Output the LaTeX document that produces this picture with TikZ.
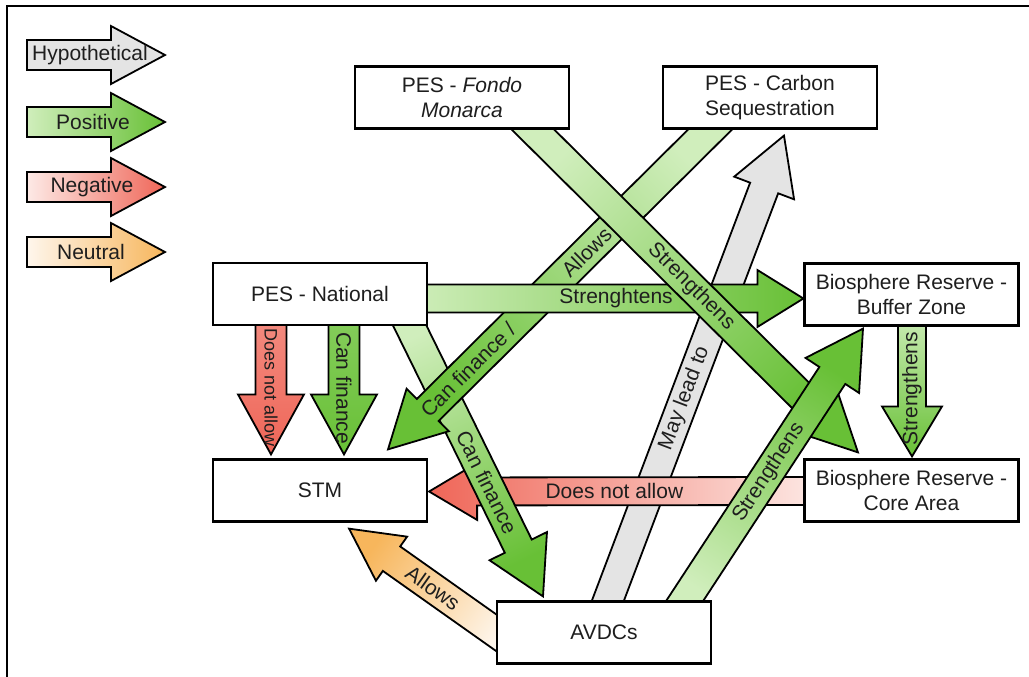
\documentclass[tikz,border=0pt]{standalone}
\usepackage{fontspec}
\setmainfont{Liberation Sans}
\usetikzlibrary{calc}
\definecolor{gpale}{RGB}{208,238,188}
\definecolor{gsat}{RGB}{104,192,54}
\definecolor{rpale}{RGB}{253,234,230}
\definecolor{rsat}{RGB}{239,102,88}
\definecolor{opale}{RGB}{254,246,236}
\definecolor{osat}{RGB}{247,182,92}
\definecolor{hgray}{RGB}{228,228,228}
\definecolor{txt}{RGB}{30,30,30}
\newcommand\fs{\fontsize{10.5}{12.5}\selectfont}
\pgfdeclarelayer{bg}
\pgfsetlayers{bg,main}
% #1 fill style, #2 start, #3 tip, #4 shaft half, #5 head half, #6 head length, #7 tail extension, #8 labels (px, local frame)
\newcommand\blockarrow[8]{%
  \path let \p1=($(#3)-(#2)$), \n1={atan2(\y1,\x1)}, \n2={veclen(\x1,\y1)} in
    \pgfextra{\xdef\baang{\n1}\xdef\balen{\n2}\pgfmathsetmacro\bash{\n1+90}\xdef\bashang{\bash}};
  \begin{scope}[shift={(#2)}, rotate=\baang, x=0.5pt, y=0.5pt]
    \path[arrowline, #1, shading angle=\bashang] (-#7,-#4) -- ({\balen-#6},-#4) -- ({\balen-#6},-#5) -- ({\balen},0)
       -- ({\balen-#6},#5) -- ({\balen-#6},#4) -- (-#7,#4) -- cycle;
    #8
  \end{scope}}
\begin{document}
\begin{tikzpicture}[x=0.5pt,y=-0.5pt,
  box/.style={draw=black, line width=1.1pt, fill=white, minimum width=107pt, minimum height=31pt,
    inner sep=2pt, align=center, font=\fs, text=txt},
  arrowline/.style={draw=black, line width=0.9pt, line join=miter},
  lbl/.style={transform shape, font=\fs, text=txt, inner sep=0pt},
  posarr/.style={left color=gpale, right color=gsat},
  negarr/.style={left color=rpale, right color=rsat},
  neuarr/.style={left color=opale, right color=osat},
  hyparr/.style={left color=hgray, right color=hgray}]
\useasboundingbox (0,0) rectangle (1029,676);
\draw[line width=1.2pt] (7,690) -- (7,6) -- (1040,6);

\node[box] (fondo) at (462,97.5) {PES - \textit{Fondo}\\\textit{Monarca}};
\node[box] (carbon) at (770,97.5) {PES - Carbon\\Sequestration};
\node[box] (nat) at (320,294) {PES - National};
\node[box] (stm) at (320,490.5) {STM};
\node[box] (buf) at (911.5,294.5) {Biosphere Reserve -\\Buffer Zone};
\node[box] (core) at (911.5,490.5) {Biosphere Reserve -\\Core Area};
\node[box] (avdc) at (604,632.5) {AVDCs};

\coordinate (a1s) at ($(nat.south)+(-49,0)$);   \coordinate (a1t) at ($(stm.north)+(-49,-4)$);
\coordinate (a2s) at ($(nat.south)+(24,0)$);    \coordinate (a2t) at ($(stm.north)+(24,-4)$);
\coordinate (a3s) at ($(buf.south)+(0.5,0)$);   \coordinate (a3t) at ($(core.north)+(0.5,-2)$);
\coordinate (a4s) at ($(core.west)+(0,0.5)$);   \coordinate (a4t) at ($(stm.east)+(1,1)$);
\coordinate (a5s) at ($(nat.east)+(0,4.5)$);    \coordinate (a5t) at ($(buf.west)+(0,4)$);
\coordinate (a6s) at (avdc.west);               \coordinate (a6t) at ($(stm.south)+(29,6)$);
\coordinate (a7s) at ($(avdc.north)+(4,0)$);    \coordinate (a7t) at ($(carbon.south)+(14,6)$);
\coordinate (a8s) at ($(avdc.north)+(81,0)$);   \coordinate (a8t) at ($(buf.south)+(-48.5,2)$);
\coordinate (a9s) at ($(fondo.south)+(71,0)$);  \coordinate (a9t) at ($(core.north)+(-53.5,-6)$);
\coordinate (a10s) at ($(carbon.south)+(-60,0)$); \coordinate (a10t) at ($(stm.north)+(68,-9)$);
\coordinate (a11s) at ($(nat.south)+(90,0)$);   \coordinate (a11t) at ($(avdc.north)+(-61,-4)$);

\coordinate (l1s) at (27,55);  \coordinate (l1t) at (165,55);
\coordinate (l2s) at (27,122); \coordinate (l2t) at (165,122);
\coordinate (l3s) at (27,187); \coordinate (l3t) at (165,187);
\coordinate (l4s) at (27,252); \coordinate (l4t) at (165,252);

\begin{pgfonlayer}{bg}
\blockarrow{hyparr}{a7s}{a7t}{15}{32}{28}{20}{\node[lbl] at (216,0) {May lead to};}
\blockarrow{negarr}{a4s}{a4t}{14}{28.5}{24}{20}{\node[lbl,rotate=180] at (189,0) {Does not allow};}
\blockarrow{posarr}{a11s}{a11t}{15}{32}{28}{20}{\node[lbl] at (174,0) {Can finance};}
\blockarrow{posarr}{a10s}{a10t}{15.5}{30}{28}{20}{\node[lbl,rotate=180] at (174,0) {Allows};
   \node[lbl,rotate=180] at (341,0) {Can finance /};}
\blockarrow{posarr}{a5s}{a5t}{14}{28.5}{23}{20}{\node[lbl] at (188,0) {Strenghtens};}
\blockarrow{posarr}{a9s}{a9t}{15}{28}{28}{20}{\node[lbl] at (223,0) {Strengthens};}
\blockarrow{posarr}{a8s}{a8t}{15.5}{32}{28}{20}{\node[lbl] at (153,0) {Strengthens};}
\blockarrow{left color=rsat!70!rpale, right color=rsat}{a1s}{a1t}{15.5}{33}{30}{20}{\node[lbl,font=\fontsize{9}{11}\selectfont] at (61,0) {Does not allow};}
\blockarrow{left color=gsat!70!gpale, right color=gsat}{a2s}{a2t}{15.5}{33}{30}{20}{\node[lbl] at (62,0) {Can finance};}
\blockarrow{posarr}{a3s}{a3t}{14}{30}{25}{20}{\node[lbl,rotate=180] at (62,0) {Strengthens};}
\blockarrow{neuarr}{a6s}{a6t}{15}{27}{26}{20}{\node[lbl,rotate=180] at (77,0) {Allows};}

\blockarrow{hyparr}{l1s}{l1t}{15}{29}{27}{0}{\node[lbl] at (63,0) {Hypothetical};}
\blockarrow{posarr}{l2s}{l2t}{15}{29}{27}{0}{\node[lbl] at (66,0) {Positive};}
\blockarrow{negarr}{l3s}{l3t}{15}{29}{27}{0}{\node[lbl] at (65,0) {Negative};}
\blockarrow{neuarr}{l4s}{l4t}{15}{29}{27}{0}{\node[lbl] at (64,0) {Neutral};}
\end{pgfonlayer}
\end{tikzpicture}
\end{document}
